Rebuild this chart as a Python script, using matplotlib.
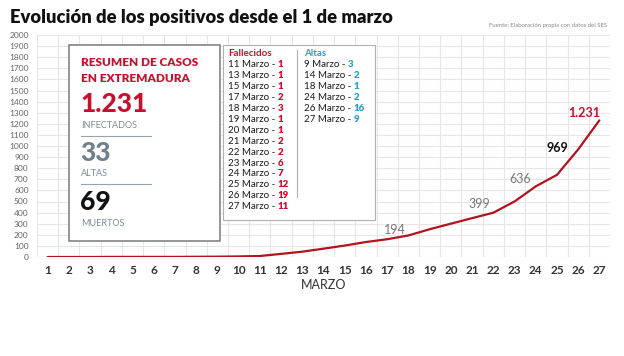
import numpy as np
import matplotlib
matplotlib.use("Agg")
import matplotlib.pyplot as plt
from matplotlib.patches import Rectangle

plt.rcParams['font.family'] = ['Lato', 'DejaVu Sans']

# data
dias = list(range(1, 28))
positivos = [0, 0, 0, 1, 1, 1, 1, 2, 3, 5, 9, 28, 48, 75, 103, 135, 160, 194,
             250, 300, 350, 399, 500, 636, 740, 969, 1231]
etiquetas_dias = [18, 22, 24, 26, 27]
etiquetas_txt = ['194', '399', '636', '969', '1.231']

fallecidos_fechas = ['11 Marzo', '13 Marzo', '15 Marzo', '17 Marzo', '18 Marzo', '19 Marzo',
                     '20 Marzo', '21 Marzo', '22 Marzo', '23 Marzo', '24 Marzo', '25 Marzo',
                     '26 Marzo', '27 Marzo']
fallecidos_num = [1, 1, 1, 2, 3, 1, 1, 2, 2, 6, 7, 12, 19, 11]
altas_fechas = ['9 Marzo', '14 Marzo', '18 Marzo', '24 Marzo', '26 Marzo', '27 Marzo']
altas_num = [3, 2, 1, 2, 16, 9]

resumen_infectados = '1.231'
resumen_altas = '33'
resumen_muertos = '69'

ROJO = '#b3121f'
ROJO_TXT = '#c8102e'
AZUL = '#2b9fd3'
GRIS = '#7d8b95'

W, H = 624, 356
fig = plt.figure(figsize=(W / 100, H / 100), dpi=100)
ax = fig.add_axes([37 / W, 1 - 257 / H, 573 / W, 222 / H])


def fx(px):
    return px / W


def fy(py):
    return 1 - py / H


ax.plot(dias, positivos, color=ROJO, lw=1.6, zorder=3, solid_capstyle='round')
ax.set_xlim(0.5, 27.5)
ax.set_ylim(0, 2000)
ax.set_xticks(dias)
ax.set_xticklabels([str(d) for d in dias], fontsize=8.5, fontweight='bold', color='#333333')
ax.set_xticks(np.arange(0.5, 28, 1), minor=True)
ax.set_yticks(range(0, 2001, 100))
ax.set_yticklabels([str(v) for v in range(0, 2001, 100)], fontsize=6, color='#666666')
ax.tick_params(axis='both', which='both', length=0)
ax.tick_params(axis='x', pad=6)
ax.tick_params(axis='y', pad=6)
ax.grid(True, axis='y', which='major', color='#e6e6e6', lw=0.8)
ax.grid(True, axis='x', which='minor', color='#e6e6e6', lw=0.8)
for s in ax.spines.values():
    s.set_visible(False)
ax.set_xlabel('MARZO', fontsize=9, color='#333333', labelpad=2)

offsets = [(-10, 4), (-10, 6), (-11, 5), (-15, 1), (-11, 5)]
colores = ['#777777', '#777777', '#777777', '#111111', ROJO_TXT]
pesos = ['normal', 'normal', 'normal', 'bold', 'bold']
for d, t, off, c, w in zip(etiquetas_dias, etiquetas_txt, offsets, colores, pesos):
    ax.annotate(t, xy=(d, positivos[d - 1]), xytext=off, textcoords='offset points',
                ha='center', va='center', fontsize=9, color=c, fontweight=w)

# title and source
fig.text(fx(10), fy(18), 'Evolución de los positivos desde el 1 de marzo',
         fontsize=13.2, fontweight='heavy', color='#111111', va='center', ha='left')
fig.text(fx(607), fy(25), 'Fuente: Elaboración propia con datos del SES',
         fontsize=4.3, color='#888888', va='center', ha='right')

# summary box
fig.patches.append(Rectangle((fx(69), fy(241)), (220 - 69) / W, (241 - 45) / H,
                             transform=fig.transFigure, facecolor='white',
                             edgecolor='#7a7a7a', lw=1.1, zorder=5))
fig.text(fx(81), fy(63), 'RESUMEN DE CASOS', fontsize=8.5, fontweight='heavy',
         color=ROJO_TXT, va='center', zorder=6)
fig.text(fx(81), fy(79), 'EN EXTREMADURA', fontsize=8.5, fontweight='heavy',
         color=ROJO_TXT, va='center', zorder=6)
fig.text(fx(80), fy(104), resumen_infectados, fontsize=19, fontweight='black',
         color=ROJO_TXT, va='center', zorder=6)
fig.text(fx(81), fy(125), 'INFECTADOS', fontsize=6.5, color=GRIS, va='center', zorder=6)
fig.lines.append(plt.Line2D([fx(81), fx(151)], [fy(136), fy(136)], transform=fig.transFigure,
                            color='#9aa4ab', lw=0.8, zorder=6))
fig.text(fx(80), fy(153), resumen_altas, fontsize=19, fontweight='black',
         color='#6f808c', va='center', zorder=6)
fig.text(fx(81), fy(174), 'ALTAS', fontsize=6.5, color=GRIS, va='center', zorder=6)
fig.lines.append(plt.Line2D([fx(81), fx(151)], [fy(184), fy(184)], transform=fig.transFigure,
                            color='#9aa4ab', lw=0.8, zorder=6))
fig.text(fx(80), fy(202), resumen_muertos, fontsize=19, fontweight='black',
         color='#111111', va='center', zorder=6)
fig.text(fx(81), fy(223), 'MUERTOS', fontsize=6.5, color=GRIS, va='center', zorder=6)

# fallecidos / altas box
fig.patches.append(Rectangle((fx(223), fy(220)), (375 - 223) / W, (220 - 45) / H,
                             transform=fig.transFigure, facecolor='white',
                             edgecolor='#b0b0b0', lw=0.8, zorder=5))
fig.lines.append(plt.Line2D([fx(297), fx(297)], [fy(50), fy(197)], transform=fig.transFigure,
                            color='#b0b0b0', lw=0.8, zorder=6))
fig.text(fx(228), fy(54), 'Fallecidos', fontsize=7, fontweight='bold', color=ROJO_TXT,
         va='center', zorder=6)
fig.text(fx(304), fy(54), 'Altas', fontsize=7, fontweight='bold', color=AZUL,
         va='center', zorder=6)
fig.canvas.draw()
rend = fig.canvas.get_renderer()
paso = 10.95
for i, (f, n) in enumerate(zip(fallecidos_fechas, fallecidos_num)):
    y = fy(64.5 + i * paso)
    t = fig.text(fx(228), y, f + ' - ', fontsize=7, color='#1a1a1a', va='center', zorder=6)
    bb = t.get_window_extent(renderer=rend)
    fig.text(bb.x1 / W, y, str(n), fontsize=7, fontweight='heavy', color=ROJO_TXT,
             va='center', zorder=6)
for i, (f, n) in enumerate(zip(altas_fechas, altas_num)):
    y = fy(64.5 + i * paso)
    t = fig.text(fx(304), y, f + ' - ', fontsize=7, color='#1a1a1a', va='center', zorder=6)
    bb = t.get_window_extent(renderer=rend)
    fig.text(bb.x1 / W, y, str(n), fontsize=7, fontweight='heavy', color=AZUL,
             va='center', zorder=6)

fig.savefig('out.png', dpi=100)
